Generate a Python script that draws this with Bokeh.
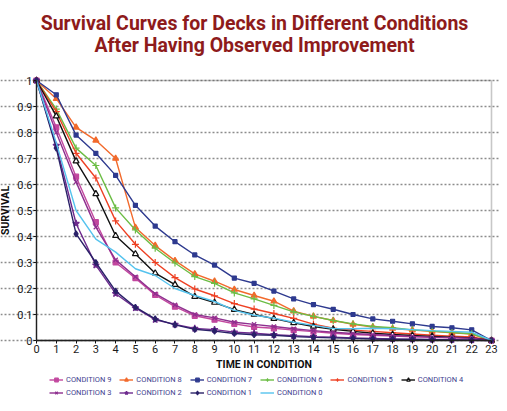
from bokeh.plotting import figure
from bokeh.models import FixedTicker, Legend, LegendItem, Label, BoxAnnotation
from bokeh.embed import file_html
from bokeh.resources import INLINE

# ---------------- data ----------------
time = list(range(24))
x_ticks = list(range(24))
y_ticks = [0, 0.1, 0.2, 0.3, 0.4, 0.5, 0.6, 0.7, 0.8, 0.9, 1]
y_tick_labels = ["0", "0.1", "0.2", "0.3", "0.4", "0.5", "0.6", "0.7", "0.8", "0.9", "1"]

cond9 = [1, 0.82, 0.63, 0.455, 0.30, 0.24, 0.175, 0.13, 0.095, 0.08, 0.064, 0.052, 0.047, 0.04, 0.034, 0.028, 0.023, 0.02, 0.017, 0.014, 0.012, 0.01, 0.008, 0]
cond8 = [1, 0.93, 0.82, 0.77, 0.70, 0.435, 0.365, 0.307, 0.256, 0.228, 0.196, 0.173, 0.151, 0.113, 0.093, 0.077, 0.062, 0.052, 0.046, 0.04, 0.035, 0.03, 0.025, 0]
cond7 = [1, 0.945, 0.79, 0.72, 0.635, 0.52, 0.44, 0.38, 0.329, 0.29, 0.24, 0.22, 0.19, 0.16, 0.138, 0.12, 0.10, 0.083, 0.074, 0.064, 0.054, 0.049, 0.041, 0]
cond6 = [1, 0.89, 0.74, 0.673, 0.51, 0.425, 0.355, 0.298, 0.246, 0.22, 0.183, 0.16, 0.135, 0.11, 0.093, 0.077, 0.064, 0.054, 0.049, 0.041, 0.036, 0.031, 0.026, 0]
cond5 = [1, 0.88, 0.72, 0.625, 0.46, 0.37, 0.30, 0.242, 0.198, 0.172, 0.142, 0.121, 0.104, 0.085, 0.063, 0.047, 0.04, 0.035, 0.03, 0.025, 0.02, 0.017, 0.014, 0]
cond4 = [1, 0.863, 0.69, 0.564, 0.403, 0.333, 0.259, 0.215, 0.169, 0.146, 0.119, 0.10, 0.084, 0.068, 0.054, 0.043, 0.035, 0.028, 0.023, 0.019, 0.016, 0.013, 0.01, 0]
cond3 = [1, 0.80, 0.61, 0.436, 0.31, 0.245, 0.18, 0.137, 0.10, 0.087, 0.07, 0.062, 0.054, 0.045, 0.038, 0.032, 0.027, 0.023, 0.019, 0.016, 0.013, 0.011, 0.009, 0]
cond2 = [1, 0.75, 0.45, 0.29, 0.18, 0.125, 0.08, 0.062, 0.046, 0.042, 0.032, 0.028, 0.022, 0.018, 0.015, 0.013, 0.01, 0.008, 0.006, 0.005, 0.004, 0.003, 0.002, 0]
cond1 = [1, 0.74, 0.41, 0.30, 0.19, 0.128, 0.083, 0.06, 0.043, 0.036, 0.027, 0.022, 0.02, 0.015, 0.012, 0.01, 0.008, 0.006, 0.005, 0.004, 0.003, 0.002, 0.001, 0]
cond0 = [1, 0.76, 0.50, 0.39, 0.34, 0.276, 0.25, 0.2, 0.173, 0.15, 0.116, 0.097, 0.086, 0.07, 0.058, 0.046, 0.045, 0.047, 0.045, 0.042, 0.038, 0.035, 0.032, 0]

series_names = ["CONDITION 9", "CONDITION 8", "CONDITION 7", "CONDITION 6", "CONDITION 5",
                "CONDITION 4", "CONDITION 3", "CONDITION 2", "CONDITION 1", "CONDITION 0"]
series_values = [cond9, cond8, cond7, cond6, cond5, cond4, cond3, cond2, cond1, cond0]

title_lines = ["Survival Curves for Decks in Different Conditions",
               "After Having Observed Improvement"]

# ---------------- styles / layout ----------------
colors = ["#C2479E", "#F26A2C", "#2E3A8F", "#6CBD45", "#EE4124",
          "#111111", "#8E2F8F", "#6E2A8E", "#2A2168", "#55C3EE"]
markers = ["square", "triangle", "square", "cross", "cross",
           "triangle", "x", "star", "diamond", None]
marker_sizes = [5, 6, 4, 7, 7, 6, 6, 7, 6, 0]
marker_fills = [None, None, None, None, None, "white", None, None, None, None]

FONT = "Roboto"
FIG_W, FIG_H = 499, 403
PLOT_LEFT_PX, PLOT_W_PX = 36, 455          # where x=0 and x=23 sit on the canvas
PLOT_TOP_PX, PLOT_H_PX = 80, 260           # where y=1 and y=0 sit on the canvas
x_span = x_ticks[-1] - x_ticks[0]
x_lo = x_ticks[0] - PLOT_LEFT_PX / PLOT_W_PX * x_span
x_hi = x_ticks[-1] + (FIG_W - PLOT_LEFT_PX - PLOT_W_PX) / PLOT_W_PX * x_span
y_lo = y_ticks[0] - (FIG_H - PLOT_TOP_PX - PLOT_H_PX) / PLOT_H_PX
y_hi = y_ticks[-1] + PLOT_TOP_PX / PLOT_H_PX

p = figure(width=FIG_W, height=FIG_H, output_backend="svg", toolbar_location=None,
           x_range=(x_lo, x_hi), y_range=(y_lo, y_hi),
           min_border=0, min_border_left=0, min_border_right=0,
           min_border_top=0, min_border_bottom=0)
p.background_fill_color = "white"
p.border_fill_color = "white"
p.outline_line_color = None

# axes (drawn at the data origin, inside the canvas)
p.xaxis.ticker = FixedTicker(ticks=x_ticks)
p.xaxis.fixed_location = y_ticks[0]
p.xaxis.bounds = (x_ticks[0], x_ticks[-1])
p.yaxis.ticker = FixedTicker(ticks=y_ticks)
p.yaxis.fixed_location = x_ticks[0]
p.yaxis.bounds = (y_ticks[0], y_ticks[-1])
p.yaxis.major_label_overrides = {t: l for t, l in zip(y_ticks, y_tick_labels)}
for ax in (p.xaxis[0], p.yaxis[0]):
    ax.axis_line_color = "#111111"
    ax.axis_line_width = 1.3
    ax.major_tick_line_color = "#111111"
    ax.major_tick_out = 3
    ax.major_tick_in = 0
    ax.minor_tick_line_color = None
    ax.major_label_text_font = FONT
    ax.major_label_text_font_size = "11px"
    ax.major_label_text_color = "#1a1a1a"
    ax.major_label_standoff = 1
    ax.axis_label_text_font = FONT
    ax.axis_label_text_font_style = "bold"
    ax.axis_label_text_font_size = "10.5px"
    ax.axis_label_text_color = "#111111"
    ax.axis_label_standoff = 2
p.xaxis.axis_label = "TIME IN CONDITION"
p.yaxis.axis_label = "SURVIVAL"

p.xgrid.grid_line_color = None
p.ygrid.grid_line_color = "#8c8c8c"
p.ygrid.grid_line_dash = "2 2"
p.ygrid.grid_line_width = 1.3
p.ygrid.bounds = (x_ticks[0], x_ticks[-1])

# plot-area border (top and right)
p.add_layout(BoxAnnotation(left=x_ticks[0], right=x_ticks[-1], bottom=y_ticks[0], top=y_ticks[-1],
                           fill_alpha=0, line_color="#444444", line_width=1.6))

items = []
for name, vals, col, mk, ms, mf in zip(series_names, series_values, colors, markers,
                                        marker_sizes, marker_fills):
    rends = [p.line(time, vals, line_color=col, line_width=1.4)]
    if mk is not None:
        rends.append(p.scatter(time, vals, marker=mk, size=ms, line_color=col,
                               fill_color=(mf if mf else col), line_width=1.2))
    items.append(LegendItem(label=name, renderers=rends))

for k, row_items in enumerate((items[:6], items[6:])):
    leg = Legend(items=row_items, orientation="horizontal",
                 label_text_font=FONT, label_text_font_size="7.5px",
                 label_text_color="#3E3E8E", glyph_width=14, glyph_height=9,
                 label_height=9, label_standoff=3, spacing=8,
                 padding=0, margin=0, background_fill_alpha=0, border_line_alpha=0,
                 location=(49, 19 - 13 * k))
    p.add_layout(leg)

# title (two lines)
for i, line in enumerate(title_lines):
    p.add_layout(Label(x=254, y=380 - 22 * i, x_units="screen", y_units="screen",
                       text=line, text_align="center", text_baseline="middle",
                       text_font=FONT, text_font_style="bold", text_font_size="19.5px",
                       text_color="#8E1B1B"))

open("out.html", "w").write(file_html(p, INLINE))
